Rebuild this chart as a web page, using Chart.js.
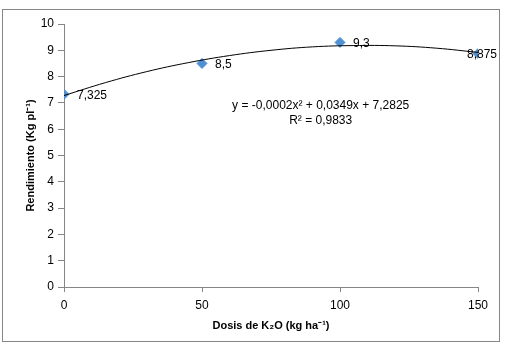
<!DOCTYPE html>
<html lang="es">
<head>
<meta charset="UTF-8">
<title>Rendimiento vs dosis de K2O</title>
<script src="https://cdn.jsdelivr.net/npm/chart.js"></script>
<style>
  html, body { margin: 0; padding: 0; background: #fff; }
  #wrap { position: relative; width: 507px; height: 351px; }
  #frame { position: absolute; left: 2px; top: 9px; width: 498px; height: 333px; box-sizing: border-box; border: 1px solid #868686; }
  canvas { position: absolute; left: 0; top: 0; }
</style>
</head>
<body>
<div id="wrap">
  <div id="frame"></div>
  <canvas id="chart" width="507" height="351"></canvas>
</div>
<script>
  // measured points
  const doses = [0, 50, 100, 150];
  const yields = [7.325, 8.5, 9.3, 8.875];
  const yieldLabels = ['7,325', '8,5', '9,3', '8,875'];

  // polynomial trend line
  const trendX = [0, 15, 30, 45, 60, 75, 90, 105, 120, 135, 150];
  const trendY = [7.28, 7.77, 8.19, 8.53, 8.80, 9.00, 9.13, 9.18, 9.17, 9.08, 8.92];
  const equation = ['y = -0,0002x² + 0,0349x + 7,2825', 'R² = 0,9833'];

  const FONT = '"Liberation Sans", Arial, sans-serif';
  const axisGrey = '#868686';

  const labelPlugin = {
    id: 'pointLabels',
    afterDatasetsDraw(chart) {
      const ctx = chart.ctx;
      const meta = chart.getDatasetMeta(1);
      ctx.save();
      ctx.font = '12px ' + FONT;
      ctx.fillStyle = '#000';
      ctx.textBaseline = 'middle';
      meta.data.forEach((pt, i) => {
        const txt = yieldLabels[i];
        const w = ctx.measureText(txt).width;
        let x = pt.x + 13;
        if (x + w > chart.width - 10) x = chart.width - 10 - w;
        ctx.fillText(txt, x, pt.y + 1);
      });
      // trend line equation
      const xs = chart.scales.x, ys = chart.scales.y;
      ctx.textAlign = 'center';
      ctx.fillText(equation[0], xs.getPixelForValue(93), ys.getPixelForValue(6.88));
      ctx.fillText(equation[1], xs.getPixelForValue(93), ys.getPixelForValue(6.32));
      ctx.restore();
    }
  };

  new Chart(document.getElementById('chart'), {
    data: {
      datasets: [{
        type: 'line',
        label: 'Tendencia',
        data: trendX.map((x, i) => ({ x: x, y: trendY[i] })),
        borderColor: '#000',
        borderWidth: 1,
        pointRadius: 0,
        tension: 0.4,
        fill: false,
        order: 0
      }, {
        type: 'scatter',
        label: 'Rendimiento',
        data: doses.map((x, i) => ({ x: x, y: yields[i] })),
        pointStyle: 'rectRot',
        pointRadius: 5,
        backgroundColor: '#4F8FD4',
        borderColor: '#4F8FD4',
        borderWidth: 1,
        order: 1
      }]
    },
    options: {
      responsive: false,
      animation: false,
      devicePixelRatio: 1,
      layout: { padding: { left: 20, top: 24, right: 29, bottom: 16 } },
      plugins: {
        legend: { display: false },
        tooltip: { enabled: false }
      },
      scales: {
        x: {
          type: 'linear',
          min: 0,
          max: 150,
          ticks: { stepSize: 50, color: '#000', font: { family: FONT, size: 12 }, padding: 6, maxRotation: 0 },
          grid: { drawOnChartArea: false, drawTicks: true, tickLength: 5, color: axisGrey },
          border: { color: axisGrey, width: 1 },
          title: {
            display: true,
            text: 'Dosis de K₂O (kg ha⁻¹)',
            color: '#000',
            font: { family: FONT, size: 11, weight: 'bold' },
            padding: { top: 4, bottom: 2 }
          },
          afterFit: s => { s.height = 48; }
        },
        y: {
          min: 0,
          max: 10,
          ticks: { stepSize: 1, color: '#000', font: { family: FONT, size: 12 }, padding: 4 },
          grid: { drawOnChartArea: false, drawTicks: true, tickLength: 6, color: axisGrey },
          border: { color: axisGrey, width: 1 },
          title: {
            display: true,
            text: 'Rendimiento (Kg pl⁻¹)',
            color: '#000',
            font: { family: FONT, size: 11, weight: 'bold' },
            padding: { top: 4, bottom: 4 }
          },
          afterFit: s => { s.width = 44; }
        }
      }
    },
    plugins: [labelPlugin]
  });
</script>
</body>
</html>
